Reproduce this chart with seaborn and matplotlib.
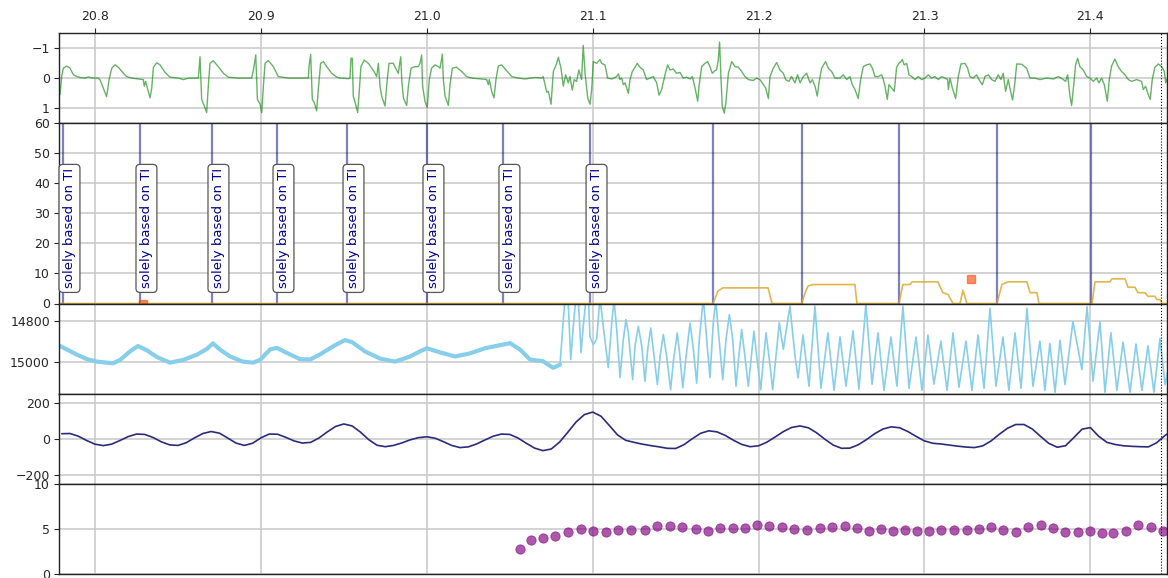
import numpy as np
import pandas as pd
import matplotlib
matplotlib.use("Agg")
import matplotlib.pyplot as plt
import seaborn as sns

sns.set_style("white")
plt.rcParams["font.family"] = ["DejaVu Sans"]
plt.rcParams["xtick.labelsize"] = 9
plt.rcParams["ytick.labelsize"] = 9

# ---------------- data ----------------
x_range = (20.7783, 21.4462)
x_ticks = [20.8, 20.9, 21.0, 21.1, 21.2, 21.3, 21.4]
x_tick_labels = ["20.8", "20.9", "21.0", "21.1", "21.2", "21.3", "21.4"]
cursor_t = 21.4426

# ECG-like trace (time, amplitude)
green_trace = [
    (20.7789, 0.55), (20.7799, -0.05), (20.7809, -0.33), (20.7829, -0.40), (20.7849, -0.33),
    (20.7870, -0.11), (20.7890, -0.05), (20.7910, -0.02), (20.7940, 0.00), (20.7960, -0.04),
    (20.7980, 0.00), (20.8020, 0.00), (20.8030, 0.05), (20.8050, 0.33), (20.8070, 0.62),
    (20.8085, 0.05), (20.8101, -0.33), (20.8121, -0.44), (20.8141, -0.36), (20.8171, -0.16),
    (20.8191, -0.05), (20.8221, 0.00), (20.8261, 0.03), (20.8291, 0.05), (20.8297, 0.27),
    (20.8305, 0.11), (20.8332, 0.66), (20.8342, 0.33), (20.8352, -0.36), (20.8372, -0.51),
    (20.8392, -0.44), (20.8422, -0.19), (20.8452, -0.03), (20.8502, 0.00), (20.8533, 0.05),
    (20.8563, 0.00), (20.8623, 0.00), (20.8633, -0.71), (20.8643, 0.71), (20.8659, 0.93),
    (20.8673, 1.15), (20.8683, 0.27), (20.8693, -0.49), (20.8713, -0.58), (20.8743, -0.38),
    (20.8774, -0.16), (20.8804, -0.03), (20.8864, 0.00), (20.8944, 0.00), (20.8955, -0.27),
    (20.8969, -0.77), (20.8979, 0.71), (20.8995, 0.87), (20.9005, 1.15), (20.9015, 0.27),
    (20.9025, -0.49), (20.9045, -0.58), (20.9075, -0.38), (20.9105, -0.05), (20.9165, 0.00),
    (20.9286, 0.00), (20.9290, -0.38), (20.9300, -0.79), (20.9310, 0.71), (20.9322, 0.82),
    (20.9336, 1.09), (20.9346, 0.38), (20.9360, -0.49), (20.9377, -0.55), (20.9397, -0.38),
    (20.9427, -0.16), (20.9457, -0.03), (20.9477, 0.00), (20.9527, 0.02), (20.9537, 0.00),
    (20.9543, -0.66), (20.9551, -0.66), (20.9557, 0.60), (20.9571, 0.87), (20.9583, 1.15),
    (20.9591, 0.60), (20.9603, -0.38), (20.9623, -0.60), (20.9648, -0.49), (20.9668, -0.33),
    (20.9688, -0.16), (20.9698, -0.05), (20.9708, -0.49), (20.9718, 0.27), (20.9728, 0.60),
    (20.9748, 0.93), (20.9758, 0.27), (20.9772, -0.49), (20.9798, -0.49), (20.9818, -0.27),
    (20.9828, -0.16), (20.9843, -0.71), (20.9849, 0.05), (20.9859, 0.66), (20.9879, 0.91),
    (20.9889, 0.27), (20.9905, -0.33), (20.9929, -0.38), (20.9949, -0.38), (20.9959, -0.49),
    (20.9969, -0.77), (20.9975, 0.27), (20.9989, 0.77), (21.0003, 0.98), (21.0015, 0.05),
    (21.0029, -0.33), (21.0049, -0.44), (21.0070, -0.38), (21.0080, -0.33), (21.0094, -0.80),
    (21.0100, 0.05), (21.0110, 0.60), (21.0130, 0.91), (21.0140, 0.22), (21.0154, -0.33),
    (21.0180, -0.36), (21.0210, -0.22), (21.0240, -0.05), (21.0271, 0.00), (21.0331, 0.03),
    (21.0361, 0.05), (21.0371, 0.22), (21.0377, 0.05), (21.0391, 0.44), (21.0405, 0.66),
    (21.0417, 0.05), (21.0431, -0.40), (21.0451, -0.44), (21.0481, -0.25), (21.0512, -0.05),
    (21.0552, 0.00), (21.0592, 0.03), (21.0652, -0.02), (21.0692, 0.00), (21.0702, -0.05),
    (21.0713, 0.22), (21.0723, 0.47), (21.0733, 0.44), (21.0749, 0.87), (21.0763, -0.22),
    (21.0783, -0.49), (21.0793, -0.69), (21.0809, -0.33), (21.0823, 0.27), (21.0837, -0.11),
    (21.0853, 0.16), (21.0863, -0.05), (21.0877, 0.40), (21.0889, 0.05), (21.0903, 0.11),
    (21.0917, -0.27), (21.0933, 0.05), (21.0943, -1.09), (21.0954, -0.16), (21.0970, 0.66),
    (21.0984, 0.87), (21.0994, 0.38), (21.1004, -0.55), (21.1024, -0.49), (21.1044, -0.62),
    (21.1054, -0.49), (21.1074, -0.44), (21.1090, 0.00), (21.1114, 0.03), (21.1134, -0.02),
    (21.1144, -0.05), (21.1155, -0.14), (21.1165, 0.05), (21.1175, 0.00), (21.1185, 0.22),
    (21.1195, 0.16), (21.1215, 0.51), (21.1225, 0.05), (21.1239, -0.22), (21.1255, -0.36),
    (21.1269, -0.49), (21.1285, -0.36), (21.1305, -0.27), (21.1325, 0.05), (21.1345, 0.00),
    (21.1365, -0.05), (21.1386, 0.16), (21.1400, 0.57), (21.1416, 0.38), (21.1436, -0.11),
    (21.1452, -0.44), (21.1466, -0.27), (21.1486, -0.30), (21.1506, -0.16), (21.1526, -0.19),
    (21.1546, 0.00), (21.1566, -0.03), (21.1587, 0.03), (21.1601, -0.05), (21.1617, 0.33),
    (21.1633, 0.77), (21.1641, 0.27), (21.1657, -0.38), (21.1677, -0.49), (21.1693, -0.55),
    (21.1707, -0.38), (21.1721, -0.16), (21.1737, -0.25), (21.1747, -0.27), (21.1757, -0.60),
    (21.1765, -1.20), (21.1773, -0.05), (21.1781, 0.93), (21.1793, 1.17), (21.1803, 0.82),
    (21.1818, -0.16), (21.1838, -0.55), (21.1858, -0.38), (21.1878, -0.36), (21.1898, -0.22),
    (21.1918, -0.05), (21.1938, 0.05), (21.1968, 0.08), (21.1988, 0.00), (21.2008, 0.05),
    (21.2029, 0.22), (21.2043, 0.33), (21.2059, 0.68), (21.2069, -0.05), (21.2089, -0.33),
    (21.2109, -0.52), (21.2129, -0.27), (21.2149, -0.16), (21.2163, 0.05), (21.2183, 0.11),
    (21.2199, -0.05), (21.2219, 0.16), (21.2235, -0.11), (21.2250, 0.16), (21.2270, -0.05),
    (21.2290, -0.16), (21.2310, 0.16), (21.2324, 0.05), (21.2340, 0.27), (21.2354, 0.60),
    (21.2364, 0.16), (21.2380, -0.33), (21.2404, -0.55), (21.2420, -0.33), (21.2440, -0.22),
    (21.2461, 0.00), (21.2491, 0.00), (21.2511, -0.11), (21.2531, 0.05), (21.2551, -0.05),
    (21.2565, 0.22), (21.2581, 0.38), (21.2601, 0.68), (21.2615, 0.05), (21.2631, -0.38),
    (21.2651, -0.44), (21.2671, -0.47), (21.2686, -0.33), (21.2702, -0.05), (21.2722, -0.05),
    (21.2742, -0.11), (21.2752, 0.05), (21.2762, 0.27), (21.2776, 0.71), (21.2786, 0.22),
    (21.2802, 0.33), (21.2818, 0.44), (21.2832, -0.36), (21.2846, -0.49), (21.2858, -0.55),
    (21.2866, -0.62), (21.2878, -0.44), (21.2893, -0.49), (21.2907, -0.11), (21.2923, -0.05),
    (21.2943, 0.05), (21.2963, -0.05), (21.2983, 0.05), (21.3003, 0.00), (21.3023, -0.11),
    (21.3043, 0.00), (21.3063, -0.05), (21.3083, 0.05), (21.3104, -0.05), (21.3124, 0.00),
    (21.3140, 0.05), (21.3144, 0.38), (21.3154, 0.00), (21.3168, 0.33), (21.3188, 0.68),
    (21.3204, -0.05), (21.3220, -0.47), (21.3244, -0.49), (21.3260, -0.33), (21.3274, -0.05),
    (21.3294, 0.00), (21.3314, -0.11), (21.3335, 0.11), (21.3349, 0.22), (21.3365, -0.05),
    (21.3385, -0.11), (21.3405, 0.05), (21.3425, 0.11), (21.3445, -0.11), (21.3461, 0.05),
    (21.3475, -0.16), (21.3489, 0.44), (21.3505, 0.05), (21.3515, 0.33), (21.3531, 0.73),
    (21.3545, 0.16), (21.3556, -0.47), (21.3586, -0.46), (21.3616, -0.33), (21.3636, 0.00),
    (21.3666, 0.00), (21.3696, 0.05), (21.3736, 0.00), (21.3777, 0.03), (21.3807, -0.05),
    (21.3837, 0.05), (21.3851, 0.11), (21.3863, -0.11), (21.3877, 0.60), (21.3887, 0.91),
    (21.3901, 0.16), (21.3911, -0.44), (21.3923, -0.66), (21.3937, -0.38), (21.3957, -0.27),
    (21.3978, -0.05), (21.3998, 0.00), (21.4018, 0.11), (21.4038, 0.00), (21.4052, 0.16),
    (21.4068, 0.00), (21.4084, 0.22), (21.4102, 0.77), (21.4114, 0.05), (21.4128, -0.40),
    (21.4148, -0.63), (21.4168, -0.38), (21.4188, -0.22), (21.4209, -0.11), (21.4229, 0.05),
    (21.4249, 0.11), (21.4279, 0.05), (21.4309, 0.11), (21.4319, 0.38), (21.4333, 0.27),
    (21.4345, 0.49), (21.4361, 0.71), (21.4373, 0.05), (21.4389, -0.36), (21.4410, -0.47),
    (21.4430, -0.38), (21.4446, -0.22), (21.4454, 0.16), (21.4460, 0.05), (21.4468, 0.17),
]

# detected beats
beat_t = [20.7807, 20.8271, 20.8705, 20.9097, 20.9519, 21.0001, 21.0459,
          21.0984, 21.1725, 21.2262, 21.2846, 21.3437, 21.4004]
beat_note = "solely based on TI"
noted_beats = 8

# step-like secondary measure
orange_trace = [
    (20.7783, 0.0), (21.1725, 0.0), (21.1755, 4.1), (21.1785, 5.2), (21.2057, 5.2), (21.2081, 0.0),
    (21.2260, 0.0), (21.2280, 3.5), (21.2298, 5.8), (21.2328, 6.3), (21.2581, 6.3), (21.2593, 0.0),
    (21.2846, 0.0), (21.2870, 6.3), (21.2913, 6.3), (21.2925, 7.2), (21.3081, 7.2), (21.3111, 3.6),
    (21.3142, 3.0), (21.3172, 0.0), (21.3214, 0.0), (21.3232, 4.4), (21.3256, 0.0),
    (21.3437, 0.0), (21.3467, 6.3), (21.3503, 7.2), (21.3618, 7.2), (21.3636, 3.6), (21.3678, 3.6),
    (21.3690, 0.0), (21.4010, 0.0), (21.4028, 7.2), (21.4118, 7.2), (21.4130, 8.2), (21.4209, 8.2),
    (21.4227, 5.4), (21.4269, 5.4), (21.4287, 3.6), (21.4329, 3.6), (21.4347, 2.4), (21.4389, 2.4),
    (21.4401, 1.3), (21.4420, 1.3), (21.4432, 0.0), (21.4468, 0.0),
]
flag_t = [20.8289, 21.3279]
flag_v = [0.0, 8.2]

# slow baseline trace of the pressure-like signal
blue_slow = [
    (20.7789, 14924), (20.7831, 14941), (20.7891, 14966), (20.7952, 14988), (20.8012, 15000),
    (20.8072, 15005), (20.8109, 15008), (20.8151, 14992), (20.8211, 14950), (20.8259, 14924),
    (20.8313, 14945), (20.8374, 14978), (20.8452, 15005), (20.8530, 14992), (20.8615, 14966),
    (20.8675, 14938), (20.8711, 14911), (20.8753, 14941), (20.8814, 14975), (20.8892, 15000),
    (20.8952, 15005), (20.8995, 14992), (20.9055, 14941), (20.9097, 14933), (20.9157, 14958),
    (20.9236, 14988), (20.9296, 14990), (20.9356, 14965), (20.9447, 14920), (20.9507, 14895),
    (20.9549, 14905), (20.9627, 14950), (20.9718, 14985), (20.9808, 15000), (20.9899, 14975),
    (20.9959, 14950), (21.0001, 14935), (21.0080, 14955), (21.0170, 14975), (21.0260, 14960),
    (21.0351, 14935), (21.0441, 14920), (21.0502, 14910), (21.0562, 14941), (21.0622, 14990),
    (21.0700, 14998), (21.0761, 15030), (21.0803, 15015),
]
# oscillating part of the same signal
blue_osc = [
    (21.0803, 15015), (21.0833, 14690), (21.0851, 14690), (21.0868, 14990), (21.0883, 14830),
    (21.0899, 14690), (21.0913, 14690), (21.0930, 14956), (21.0943, 14830), (21.0960, 14690),
    (21.0974, 14690), (21.0984, 14880), (21.1004, 14917), (21.1024, 14890), (21.1044, 14690),
    (21.1064, 14830), (21.1094, 15029), (21.1115, 14810), (21.1129, 14700), (21.1145, 14845),
    (21.1165, 15078), (21.1185, 14890), (21.1201, 14795), (21.1215, 14860), (21.1241, 15088),
    (21.1255, 14925), (21.1275, 14828), (21.1296, 14925), (21.1315, 15096), (21.1332, 14940),
    (21.1350, 14836), (21.1370, 14975), (21.1390, 15112), (21.1406, 14975), (21.1426, 14868),
    (21.1446, 14975), (21.1470, 15137), (21.1486, 15000), (21.1510, 14860), (21.1526, 14975),
    (21.1543, 15127), (21.1563, 14975), (21.1587, 14812), (21.1607, 14940), (21.1627, 15105),
    (21.1643, 14890), (21.1667, 14690), (21.1687, 14890), (21.1707, 15078), (21.1727, 14810),
    (21.1742, 14700), (21.1757, 14845), (21.1784, 15088), (21.1804, 14890), (21.1824, 14771),
    (21.1844, 14890), (21.1864, 15120), (21.1878, 15000), (21.1898, 14844), (21.1918, 14975),
    (21.1938, 15120), (21.1953, 15000), (21.1972, 14852), (21.1989, 14975), (21.2013, 15137),
    (21.2028, 15000), (21.2045, 14860), (21.2065, 14990), (21.2085, 15137), (21.2105, 14975),
    (21.2125, 14810), (21.2149, 14940), (21.2189, 14730), (21.2220, 14975), (21.2238, 15080),
    (21.2268, 14870), (21.2304, 15120), (21.2340, 14730), (21.2376, 15130), (21.2418, 14860),
    (21.2455, 15140), (21.2491, 14880), (21.2527, 15120), (21.2569, 14850), (21.2605, 15135),
    (21.2647, 14720), (21.2684, 15110), (21.2720, 14860), (21.2756, 15140), (21.2798, 14880),
    (21.2834, 15120), (21.2870, 14730), (21.2907, 15130), (21.2949, 14880), (21.2985, 15140),
    (21.3021, 14870), (21.3057, 15110), (21.3099, 14900), (21.3136, 15140), (21.3172, 14860),
    (21.3208, 15125), (21.3250, 14900), (21.3286, 15140), (21.3323, 14870), (21.3359, 15130),
    (21.3395, 14740), (21.3431, 15120), (21.3473, 14880), (21.3509, 15140), (21.3546, 14860),
    (21.3582, 15130), (21.3618, 14740), (21.3654, 15120), (21.3696, 14900), (21.3726, 15140),
    (21.3756, 14912), (21.3787, 15149), (21.3817, 14896), (21.3847, 15112), (21.3895, 14805),
    (21.3949, 15039), (21.3980, 14732), (21.4016, 15095), (21.4058, 14805), (21.4088, 15149),
    (21.4124, 14859), (21.4160, 15140), (21.4197, 14905), (21.4239, 15149), (21.4275, 14914),
    (21.4311, 15140), (21.4347, 14923), (21.4383, 15149), (21.4420, 14887), (21.4450, 15112),
    (21.4468, 15040),
]

# smooth respiratory-like curve, sampled every 0.005
navy_start = 20.780
navy_step = 0.005
navy_v = [
    28, 29, 14, -10, -30, -38, -30, -10, 12, 26,
    24, 7, -17, -34, -37, -22, 5, 29, 40, 31,
    4, -24, -37, -25, 5, 26, 25, 8, -12, -24,
    -20, 4, 38, 68, 82, 71, 37, -5, -36, -44,
    -37, -23, -6, 6, 11, 3, -16, -37, -49, -45,
    -29, -7, 14, 26, 24, 4, -25, -52, -66, -57,
    -19, 36, 93, 134, 148, 125, 74, 21, -9, -20,
    -30, -38, -45, -53, -54, -33, 0, 30, 44, 38,
    18, -9, -32, -44, -39, -19, 10, 40, 63, 71,
    61, 33, -3, -35, -53, -52, -34, -5, 28, 54,
    66, 61, 40, 13, -12, -25, -29, -35, -41, -46,
    -49, -40, -13, 24, 58, 79, 79, 54, 13, -26,
    -47, -39, 6, 53, 62, 14, -20, -32, -39, -42,
    -44, -45, -22, 18, 50,
]

# per-beat estimates
dot_t = [
    21.0562, 21.0629, 21.0700, 21.0775, 21.0852, 21.0930, 21.1004, 21.1081, 21.1155, 21.1232,
    21.1315, 21.1389, 21.1466, 21.1541, 21.1620, 21.1697, 21.1767, 21.1843, 21.1916, 21.1990,
    21.2065, 21.2142, 21.2216, 21.2291, 21.2368, 21.2444, 21.2521, 21.2596, 21.2665, 21.2740,
    21.2812, 21.2884, 21.2955, 21.3025, 21.3102, 21.3179, 21.3254, 21.3328, 21.3400, 21.3474,
    21.3549, 21.3623, 21.3700, 21.3775, 21.3847, 21.3924, 21.3998, 21.4070, 21.4139, 21.4212,
    21.4286, 21.4363, 21.4435,
]
dot_v = [
    2.73, 3.75, 4.04, 4.23, 4.64, 5.02, 4.79, 4.64, 4.83, 4.83,
    4.83, 5.32, 5.32, 5.24, 5.02, 4.79, 5.09, 5.09, 5.09, 5.39,
    5.28, 5.21, 4.94, 4.87, 5.06, 5.21, 5.28, 5.13, 4.76, 4.98,
    4.72, 4.83, 4.72, 4.76, 4.91, 4.91, 4.91, 4.98, 5.17, 4.91,
    4.64, 5.24, 5.43, 5.13, 4.64, 4.64, 4.76, 4.57, 4.57, 4.79,
    5.39, 5.21, 4.76,
]

# ---------------- figure ----------------
green_df = pd.DataFrame(green_trace, columns=["t", "v"])
orange_df = pd.DataFrame(orange_trace, columns=["t", "v"])
slow_df = pd.DataFrame(blue_slow, columns=["t", "v"])
osc_df = pd.DataFrame(blue_osc, columns=["t", "v"])
navy_df = pd.DataFrame({"v": navy_v})
navy_df["t"] = navy_start + navy_step * np.arange(len(navy_v))
dots_df = pd.DataFrame({"t": dot_t, "v": dot_v})

fig = plt.figure(figsize=(11.68, 5.78), dpi=100)
gs = fig.add_gridspec(5, 1, height_ratios=[1, 2, 1, 1, 1], hspace=0,
                      left=59 / 1168, right=1167 / 1168, top=1 - 33 / 578, bottom=1 - 574 / 578)
axes = [fig.add_subplot(gs[i]) for i in range(5)]
ax1, ax2, ax3, ax4, ax5 = axes

line_kw = dict(estimator=None, sort=False, legend=False)

sns.lineplot(data=green_df, x="t", y="v", ax=ax1, color="green", alpha=0.6, lw=1.0, **line_kw)
ax1.set_ylim(1.5, -1.5)
ax1.set_yticks([-1, 0, 1])

for t in beat_t:
    ax2.axvline(t, color="darkblue", alpha=0.5, lw=1.6)
for t in beat_t[:noted_beats]:
    ax2.text(t, 5, beat_note, rotation=90, ha="left", va="bottom", color="darkblue",
             fontsize=9.5, bbox=dict(boxstyle="round,pad=0.3", fc="white", ec="#555555", lw=0.9))
sns.lineplot(data=orange_df, x="t", y="v", ax=ax2, color="goldenrod", alpha=0.8, lw=1.2, **line_kw)
ax2.plot(flag_t, flag_v, ls="none", marker="s", ms=6, color="orangered", alpha=0.6, clip_on=True)
ax2.set_ylim(0, 60)
ax2.set_yticks([0, 10, 20, 30, 40, 50, 60])

sns.lineplot(data=slow_df, x="t", y="v", ax=ax3, color="skyblue", lw=3.0, **line_kw)
sns.lineplot(data=osc_df, x="t", y="v", ax=ax3, color="skyblue", lw=1.2, **line_kw)
ax3.set_ylim(15156, 14717)
ax3.set_yticks([14800, 15000])

sns.lineplot(data=navy_df, x="t", y="v", ax=ax4, color="#2b2b7b", lw=1.2, **line_kw)
ax4.set_ylim(-250, 250)
ax4.set_yticks([-200, 0, 200])

sns.scatterplot(data=dots_df, x="t", y="v", ax=ax5, color="purple", alpha=0.65, s=45,
                edgecolor="purple", linewidth=0.6, legend=False)
ax5.set_ylim(0, 10)
ax5.set_yticks([0, 5, 10])

for ax in axes:
    ax.set_xlim(*x_range)
    ax.set_xticks(x_ticks)
    ax.grid(True, color="#cccccc", lw=1.2)
    ax.set_axisbelow(True)
    ax.set_xlabel("")
    ax.set_ylabel("")
    ax.axvline(cursor_t, color="black", ls=":", lw=0.8)
    ax.tick_params(axis="x", bottom=False, labelbottom=False, top=False, labeltop=False)
    ax.tick_params(axis="y", left=True, length=3.5, width=0.8, pad=3)
    for sp in ax.spines.values():
        sp.set_color("#222222")
        sp.set_linewidth(1.0)

ax1.tick_params(axis="x", top=True, labeltop=True, length=3.5, width=0.8)
ax1.set_xticklabels(x_tick_labels)

fig.savefig("out.png", dpi=100)
